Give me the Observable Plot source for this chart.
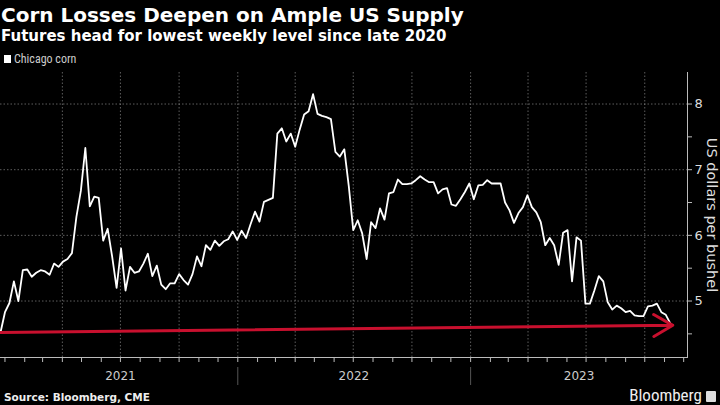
<!DOCTYPE html>
<html><head><meta charset="utf-8">
<script src="https://cdn.jsdelivr.net/npm/d3@7"></script>
<script src="https://cdn.jsdelivr.net/npm/@observablehq/plot@0.6"></script>
<style>
html,body{margin:0;padding:0;background:#000;}
body{width:720px;height:405px;overflow:hidden;position:relative;color:#fff;font-family:"DejaVu Sans",sans-serif;}
#title{position:absolute;left:1px;top:4px;font-weight:bold;font-size:20px;line-height:22px;white-space:nowrap;}
#subtitle{position:absolute;left:1px;top:28px;font-weight:bold;font-size:15px;line-height:17px;white-space:nowrap;}
#legend{position:absolute;left:4px;top:52px;font-size:12px;line-height:14px;color:#ccc;white-space:nowrap;font-family:"Liberation Sans Narrow","Roboto Condensed",Roboto,sans-serif;}
#legend span.sw{display:inline-block;width:7px;height:8px;background:#fff;margin-right:3px;}
#chart{position:absolute;left:0;top:68px;}
#source{position:absolute;left:4px;top:391px;font-weight:bold;font-size:10.5px;line-height:13px;color:#eee;white-space:nowrap;}
#brand{position:absolute;right:4px;top:386px;font-size:17px;line-height:19px;color:#eee;white-space:nowrap;font-family:"Liberation Sans Narrow","Roboto Condensed",Roboto,sans-serif;}
#brand span.ic{display:inline-block;width:10px;height:11px;background:#ddd;margin-left:4px;vertical-align:-1px;border-radius:1px;}
</style></head>
<body>
<div id="title">Corn Losses Deepen on Ample US Supply</div>
<div id="subtitle">Futures head for lowest weekly level since late 2020</div>
<div id="legend"><span class="sw"></span>Chicago corn</div>
<div id="chart"></div>
<div id="source">Source: Bloomberg, CME</div>
<div id="brand">Bloomberg<span class="ic"></span></div>
<script>
// Weekly (Friday) closes, Dec 25 2020 .. Nov 10 2023, US$/bushel
const firstWeek = "2020-12-25";
const lastWeek = "2023-11-10";
const price2021 = [4.52, 4.83, 4.97, 5.30, 5.00, 5.47, 5.48, 5.37, 5.43, 5.47, 5.45, 5.40, 5.57, 5.52, 5.60, 5.64, 5.73, 6.28, 6.68, 7.33,
  6.44, 6.59, 6.57, 5.92, 6.10, 5.68, 5.20, 5.80, 5.16, 5.52, 5.43, 5.45, 5.57, 5.72, 5.38, 5.54, 5.25, 5.18, 5.27, 5.27,
  5.41, 5.32, 5.25, 5.41, 5.68, 5.53, 5.85, 5.78, 5.92, 5.84, 5.91, 5.94, 6.06];
const price2022 = [5.93, 6.07, 5.96, 6.17, 6.36, 6.21, 6.51, 6.54, 6.57, 7.55, 7.63, 7.43, 7.55, 7.35, 7.61, 7.84, 7.89, 8.15,
  7.85, 7.82, 7.80, 7.77, 7.27, 7.20, 7.31, 6.75, 6.08, 6.23, 6.03, 5.64, 6.20, 6.11, 6.41, 6.24, 6.64, 6.66, 6.85, 6.78,
  6.78, 6.79, 6.84, 6.90, 6.85, 6.81, 6.81, 6.64, 6.70, 6.72, 6.47, 6.45, 6.55, 6.66];
const price2023 = [6.79, 6.55, 6.76, 6.77, 6.84, 6.79, 6.79, 6.79, 6.50, 6.38, 6.19, 6.34, 6.43, 6.61, 6.43, 6.35, 6.20, 5.85,
  5.96, 5.85, 5.55, 6.04, 6.08, 5.30, 5.97, 5.92, 4.96, 4.96, 5.16, 5.38, 5.30, 4.98, 4.87, 4.93, 4.89, 4.83, 4.85, 4.78,
  4.77, 4.77, 4.92, 4.93, 4.96, 4.83, 4.79, 4.66];
const yTicks = [5, 6, 7, 8];
const yMinor = [4.5, 5.5, 6.5, 7.5];
const yearLabels = [["2021-07-01", "2021"], ["2022-07-02", "2022"], ["2023-06-20", "2023"]];
const yearStarts = ["2022-01-01", "2023-01-01"];
const arrowFrom = ["2020-12-25", 4.52];
const arrowTo = ["2023-11-14", 4.63];
const yLabel = "US dollars per bushel";

const prices = [...price2021, ...price2022, ...price2023];
const weeks = d3.utcFriday.range(new Date(firstWeek), d3.utcDay.offset(new Date(lastWeek), 1));
const rows = weeks.map((d, i) => ({date: d, price: prices[i]}));
const xDomain = [new Date("2020-12-25"), new Date("2023-12-07")];
const quarters = d3.utcMonth.every(3).range(new Date("2021-01-02"), xDomain[1]);
const months = d3.utcMonth.range(new Date("2021-01-01"), xDomain[1]);
const font = '"DejaVu Sans",sans-serif';

const chart = Plot.plot({
  width: 720, height: 320,
  marginLeft: 0, marginRight: 33, marginTop: 4, marginBottom: 31,
  style: {background: "transparent", color: "#ddd", fontFamily: font, fontSize: "13px", overflow: "visible"},
  x: {type: "utc", domain: xDomain, axis: null},
  y: {domain: [4.14, 8.48], axis: null},
  marks: [
    Plot.gridY(yTicks, {stroke: "#aaa", strokeOpacity: 0.55, strokeDasharray: "1.5,2"}),
    Plot.gridX(quarters, {stroke: "#aaa", strokeOpacity: 0.55, strokeDasharray: "1.5,2"}),
    Plot.frame({anchor: "right", stroke: "#bbb"}),
    Plot.frame({anchor: "bottom", stroke: "#bbb"}),
    Plot.axisY(yTicks, {anchor: "right", tickSize: 4, tickPadding: 3, stroke: "#bbb", fill: "#ddd", fontSize: 13, tickFormat: d => String(d), label: null}),
    Plot.axisY(yMinor, {anchor: "right", tickSize: 4, tickFormat: () => "", stroke: "#bbb", label: null}),
    Plot.axisX(months, {anchor: "bottom", tickSize: 5, tickFormat: () => "", stroke: "#bbb", label: null}),
    Plot.axisX(yearStarts.map(d => new Date(d)), {anchor: "bottom", tickSize: 18, dy: 10, tickFormat: () => "", stroke: "#555", label: null}),
    Plot.axisX(yearLabels.map(d => new Date(d[0])), {anchor: "bottom", tickSize: 0, tickPadding: 14, fontSize: 12, fill: "#ccc",
      tickFormat: d => yearLabels.find(y => +new Date(y[0]) === +d)[1], label: null}),
    Plot.text([yLabel], {frameAnchor: "right", rotate: 90, dx: 24, textAnchor: "middle", fontSize: 14.5, fill: "#ddd"}),
    Plot.line(rows, {x: "date", y: "price", stroke: "#fff", strokeWidth: 1.8}),
    Plot.arrow([{from: arrowFrom, to: arrowTo}], {
      x1: d => new Date(d.from[0]), y1: d => d.from[1], x2: d => new Date(d.to[0]), y2: d => d.to[1],
      stroke: "#c8102e", strokeWidth: 3, headLength: 11})
  ]
});
document.getElementById("chart").appendChild(chart);
</script>
</body></html>
